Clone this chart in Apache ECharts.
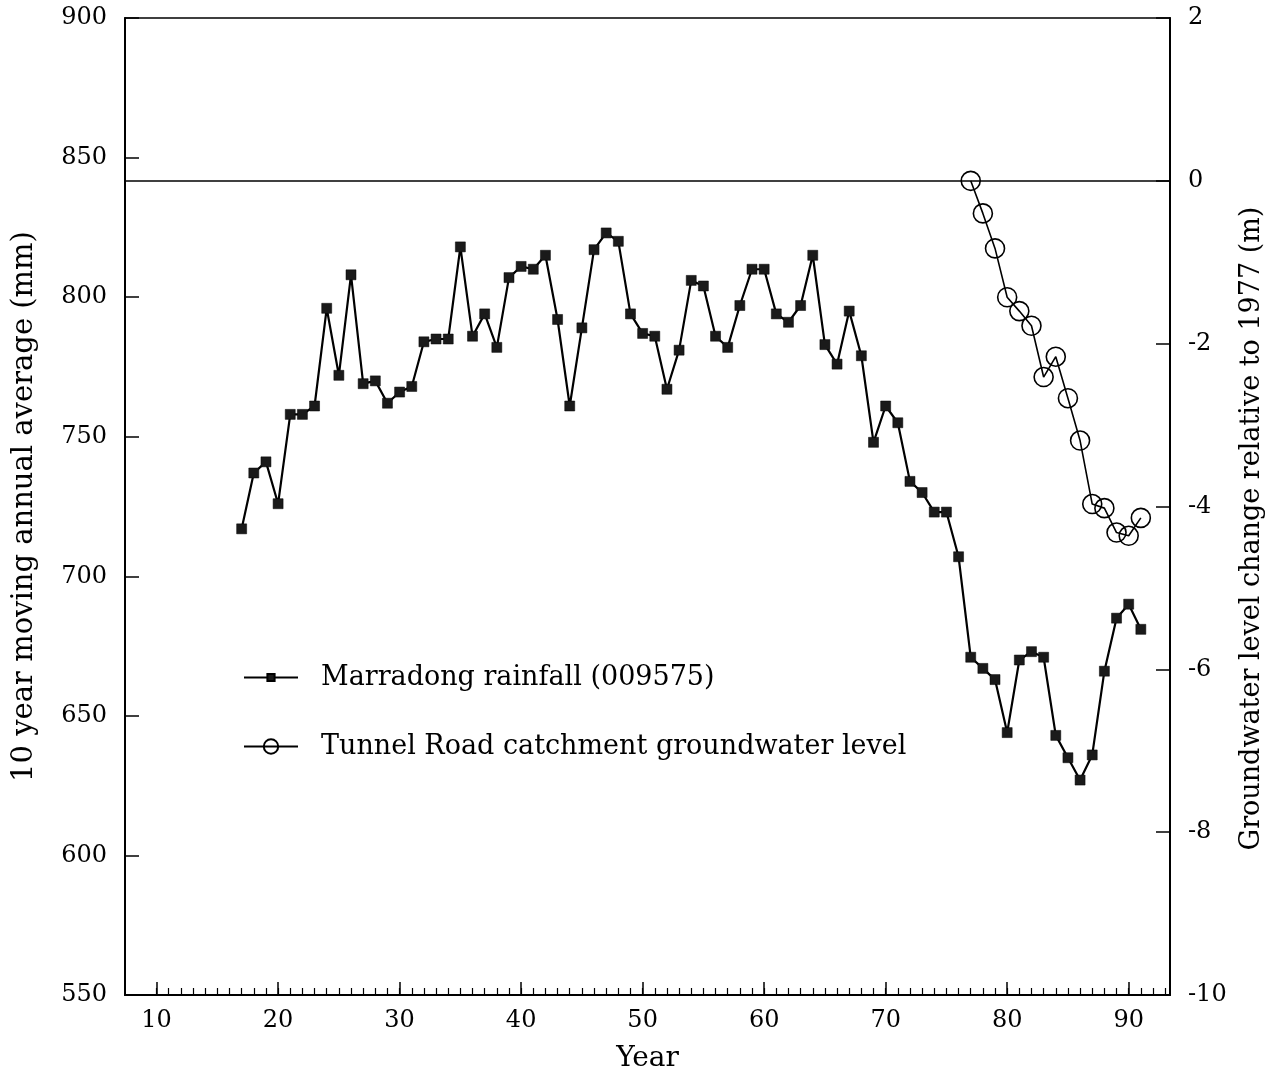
<!DOCTYPE html>
<html>
<head>
<meta charset="utf-8">
<script src="https://cdn.jsdelivr.net/npm/echarts@6/dist/echarts.min.js"></script>
<style>
  html, body { margin: 0; padding: 0; background: #fff; }
  #chart { width: 1277px; height: 1078px; }
</style>
</head>
<body>
<div id="chart"></div>
<script>
// Marradong 10-year moving average rainfall (mm), years 1917–1991 (two-digit)
const rainYears = [17,18,19,20,21,22,23,24,25,26,27,28,29,30,31,32,33,34,35,36,37,38,39,40,41,42,43,44,45,46,47,48,49,50,51,52,53,54,55,56,57,58,59,60,61,62,63,64,65,66,67,68,69,70,71,72,73,74,75,76,77,78,79,80,81,82,83,84,85,86,87,88,89,90,91];
const rainValues = [717,737,741,726,758,758,761,796,772,808,769,770,762,766,768,784,785,785,818,786,794,782,807,811,810,815,792,761,789,817,823,820,794,787,786,767,781,806,804,786,782,797,810,810,794,791,797,815,783,776,795,779,748,761,755,734,730,723,723,707,671,667,663,644,670,673,671,643,635,627,636,666,685,690,681];

// Tunnel Road catchment groundwater level change relative to 1977 (m)
const gwYears = [77,78,79,80,81,82,83,84,85,86,87,88,89,90,91];
const gwValues = [0,-0.40,-0.83,-1.43,-1.60,-1.78,-2.41,-2.16,-2.67,-3.19,-3.97,-4.02,-4.32,-4.36,-4.14];

// Axis tick values
const yearMajorTicks = [10,20,30,40,50,60,70,80,90];
const yearMinorTicks = [];
for (let y = 10; y <= 93; y++) yearMinorTicks.push(y);

const FONT = 'DejaVu Serif';
const X_MIN = 7.4, X_MAX = 93.4;
const RAIN_NAME = 'Marradong rainfall (009575)';
const GW_NAME = 'Tunnel Road catchment groundwater level';

const chart = echarts.init(document.getElementById('chart'), null, { renderer: 'canvas' });

const pairs = (xs, ys) => xs.map((x, i) => [x, ys[i]]);

const legendText = { fontFamily: FONT, fontSize: 27, color: '#000', padding: [0, 0, 0, 18] };

chart.setOption({
  backgroundColor: '#fff',
  animation: false,
  grid: {
    left: 125, right: 107, top: 18, bottom: 82,
    show: true, borderColor: '#000', borderWidth: 1.5, backgroundColor: 'transparent'
  },
  legend: [
    {
      left: 238, top: 659,
      itemWidth: 54, itemHeight: 9,
      textStyle: legendText,
      data: [RAIN_NAME]
    },
    {
      left: 238, top: 728,
      itemWidth: 54, itemHeight: 18,
      textStyle: legendText,
      data: [GW_NAME]
    }
  ],
  xAxis: [
    {
      type: 'value', min: X_MIN, max: X_MAX,
      name: 'Year', nameLocation: 'middle', nameGap: 50,
      nameTextStyle: { fontFamily: FONT, fontSize: 28, color: '#000' },
      axisLine: { show: true, onZero: false, lineStyle: { color: '#000', width: 2 } },
      axisTick: { show: true, inside: true, length: 13, customValues: yearMajorTicks, lineStyle: { color: '#000', width: 1.5 } },
      axisLabel: { customValues: yearMajorTicks, fontFamily: FONT, fontSize: 24, color: '#000', margin: 14 },
      splitLine: { show: false }
    },
    {
      // yearly minor ticks along the bottom edge
      type: 'value', min: X_MIN, max: X_MAX, position: 'bottom',
      axisLine: { show: false, onZero: false },
      axisTick: { show: true, inside: true, length: 7, customValues: yearMinorTicks, lineStyle: { color: '#000', width: 1.2 } },
      axisLabel: { show: false },
      splitLine: { show: false }
    }
  ],
  yAxis: [
    {
      type: 'value', min: 550, max: 900, interval: 50, position: 'left',
      name: '10 year moving annual average (mm)', nameLocation: 'middle', nameGap: 86,
      nameTextStyle: { fontFamily: FONT, fontSize: 29, color: '#000' },
      axisLine: { show: true, onZero: false, lineStyle: { color: '#000', width: 2 } },
      axisTick: { show: true, inside: true, length: 14, lineStyle: { color: '#000', width: 1.5 } },
      axisLabel: { fontFamily: FONT, fontSize: 24, color: '#000', margin: 18 },
      splitLine: { show: false }
    },
    {
      type: 'value', min: -10, max: 2, interval: 2, position: 'right',
      name: 'Groundwater level change relative to 1977 (m)', nameLocation: 'middle', nameGap: 68,
      nameRotate: 90,
      nameTextStyle: { fontFamily: FONT, fontSize: 27, color: '#000', padding: [0, 44, 0, 0] },
      axisLine: { show: true, onZero: false, lineStyle: { color: '#000', width: 2 } },
      axisTick: { show: true, inside: true, length: 14, lineStyle: { color: '#000', width: 1.5 } },
      axisLabel: { fontFamily: FONT, fontSize: 24, color: '#000', margin: 18 },
      splitLine: { show: false }
    }
  ],
  series: [
    {
      name: RAIN_NAME,
      type: 'line', xAxisIndex: 0, yAxisIndex: 0,
      data: pairs(rainYears, rainValues),
      symbol: 'rect', symbolSize: 10,
      lineStyle: { color: '#000', width: 2.2 },
      itemStyle: { color: '#1a1a1a', borderColor: '#000', borderWidth: 0.5 }
    },
    {
      name: GW_NAME,
      type: 'line', xAxisIndex: 0, yAxisIndex: 1,
      data: pairs(gwYears, gwValues),
      symbol: 'circle', symbolSize: 19,
      lineStyle: { color: '#000', width: 1.6 },
      itemStyle: { color: 'rgba(255,255,255,0)', borderColor: '#000', borderWidth: 1.6 },
      markLine: {
        silent: true, symbol: 'none', label: { show: false },
        lineStyle: { color: '#000', type: 'solid', width: 1.5 },
        data: [{ yAxis: 0 }]
      }
    }
  ]
});
</script>
</body>
</html>
